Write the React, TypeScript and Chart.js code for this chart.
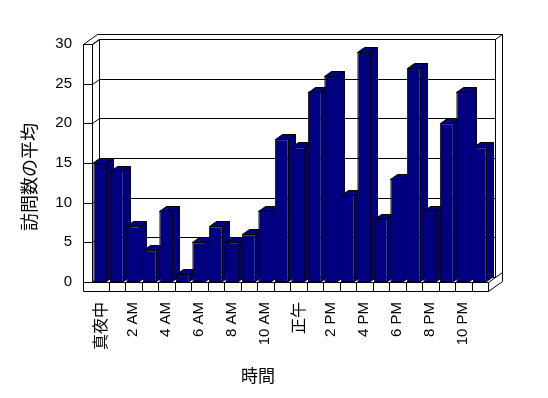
import React, { useEffect, useRef } from 'react';
import { Chart, registerables } from 'chart.js';

Chart.register(...registerables);

// ---- data ----
const hours = [
  '真夜中', '1 AM', '2 AM', '3 AM', '4 AM', '5 AM', '6 AM', '7 AM', '8 AM', '9 AM', '10 AM', '11 AM',
  '正午', '1 PM', '2 PM', '3 PM', '4 PM', '5 PM', '6 PM', '7 PM', '8 PM', '9 PM', '10 PM', '11 PM',
];
const averageVisits = [15, 14, 7, 4, 9, 1, 5, 7, 5, 6, 9, 18, 17, 24, 26, 11, 29, 8, 13, 27, 9, 20, 24, 17];
const shownHourLabels = ['真夜中', '2 AM', '4 AM', '6 AM', '8 AM', '10 AM', '正午', '2 PM', '4 PM', '6 PM', '8 PM', '10 PM'];
const yMin = 0;
const yMax = 30;
const yStep = 5;
const xTitle = '時間';
const yTitle = '訪問数の平均';

// ---- style ----
const NAVY = '#000080';
const DX = 7;
const DY = -5;
const WALL = 9;
const FLOOR = 9;
const LATIN = "'Liberation Sans', 'Noto Sans CJK JP', sans-serif";
const CJK = "'Noto Sans CJK JP', 'Liberation Sans', sans-serif";

const threeD = {
  id: 'threeD',
  beforeDatasetsDraw(chart: any) {
    const { ctx, chartArea, scales } = chart;
    const xs = scales.x;
    const ys = scales.y;
    const L = Math.round(chartArea.left);
    const R = Math.round(chartArea.right);
    const T = Math.round(chartArea.top);
    const B = Math.round(chartArea.bottom);
    const p = (v: number) => v + 0.5;
    const poly = (pts: number[][], fill?: string) => {
      ctx.beginPath();
      pts.forEach(([a, b], i) => (i ? ctx.lineTo(p(a), p(b)) : ctx.moveTo(p(a), p(b))));
      ctx.closePath();
      if (fill) {
        ctx.fillStyle = fill;
        ctx.fill();
      }
      ctx.stroke();
    };
    const seg = (a: number, b: number, c: number, d: number) => {
      ctx.beginPath();
      ctx.moveTo(p(a), p(b));
      ctx.lineTo(p(c), p(d));
      ctx.stroke();
    };
    ctx.save();
    ctx.lineWidth = 1;
    ctx.strokeStyle = '#000';
    // silhouette of walls + floor
    poly(
      [
        [L - WALL, T],
        [L - WALL + 2 * DX, T + 2 * DY],
        [R + 2 * DX, T + 2 * DY],
        [R + 2 * DX, B + FLOOR + 2 * DY],
        [R, B + FLOOR],
        [L - WALL, B + FLOOR],
      ],
      '#fff'
    );
    seg(L - WALL, T, L, T);
    seg(L, T, L, B);
    seg(L, B, R, B);
    seg(R, B, R, B + FLOOR);
    seg(L, T, L + DX, T + DY);
    seg(L, B, L + DX, B + DY);
    poly([
      [L + DX, T + DY],
      [R + DX, T + DY],
      [R + DX, B + DY],
      [L + DX, B + DY],
    ]);
    seg(R + DX, T + DY, R + 2 * DX, T + 2 * DY);
    seg(R, B, R + 2 * DX, B + 2 * DY);
    // value gridlines
    ys.ticks.forEach((t: any) => {
      const yy = Math.round(ys.getPixelForValue(t.value));
      seg(L - WALL, yy, L, yy);
      seg(L, yy, L + DX, yy + DY);
      if (t.value !== yMin && t.value !== yMax) seg(L + DX, yy + DY, R + DX, yy + DY);
    });
    // floor ticks
    for (let i = 1; i < hours.length; i++) {
      const xx = Math.round((xs.getPixelForValue(i - 1) + xs.getPixelForValue(i)) / 2);
      seg(xx, B, xx, B + FLOOR);
    }
    // bar depth faces
    const meta = chart.getDatasetMeta(0);
    meta.data.forEach((el: any) => {
      const { x, y, base, width } = el.getProps(['x', 'y', 'base', 'width'], true);
      const l = Math.round(x - width / 2);
      const r = Math.round(x + width / 2) - 1;
      const t = Math.round(y);
      const b = Math.round(base) - 1;
      poly(
        [
          [r, t],
          [r + DX, t + DY],
          [r + DX, b + DY],
          [r, b],
        ],
        NAVY
      );
      poly(
        [
          [l, t],
          [r, t],
          [r + DX, t + DY],
          [l + DX, t + DY],
        ],
        NAVY
      );
    });
    ctx.restore();
  },
  afterDraw(chart: any) {
    const { ctx } = chart;
    ctx.save();
    ctx.fillStyle = '#000';
    ctx.textAlign = 'center';
    ctx.textBaseline = 'middle';
    ctx.font = `17px ${CJK}`;
    ctx.fillText(xTitle, 258, 376);
    ctx.translate(29, 177);
    ctx.rotate(-Math.PI / 2);
    ctx.font = `18px ${CJK}`;
    ctx.fillText(yTitle, 0, 0);
    ctx.restore();
  },
};

export default function App() {
  const ref = useRef<HTMLCanvasElement>(null);
  useEffect(() => {
    if (!ref.current) return;
    const chart = new Chart(ref.current, {
      type: 'bar',
      data: {
        labels: hours,
        datasets: [
          {
            data: averageVisits,
            backgroundColor: NAVY,
            borderColor: '#000',
            borderWidth: 1,
            borderSkipped: false,
            barPercentage: 0.84,
            categoryPercentage: 1,
          },
        ],
      },
      options: {
        responsive: false,
        animation: false,
        devicePixelRatio: 1,
        layout: { padding: { top: 44, right: 60, bottom: 0, left: 0 } },
        plugins: { legend: { display: false }, tooltip: { enabled: false } },
        scales: {
          x: {
            offset: true,
            grid: { display: false, drawTicks: false },
            border: { display: false },
            afterFit: (s: any) => {
              s.height = 116;
            },
            ticks: {
              autoSkip: false,
              minRotation: 90,
              maxRotation: 90,
              padding: 20,
              color: '#000',
              font: (c: any) => {
                const lab = hours[c.index] ?? '';
                const cjk = /[^\x00-\x7F]/.test(lab);
                return { family: cjk ? CJK : LATIN, size: cjk ? 16 : 15 };
              },
              callback: (_v: any, i: number) => (shownHourLabels.includes(hours[i]) ? hours[i] : ''),
            },
          },
          y: {
            min: yMin,
            max: yMax,
            grid: { display: false, drawTicks: false },
            border: { display: false },
            afterFit: (s: any) => {
              s.width = 92;
            },
            ticks: {
              stepSize: yStep,
              padding: 20,
              color: '#000',
              font: { family: LATIN, size: 15 },
            },
          },
        },
      },
      plugins: [threeD],
    });
    return () => chart.destroy();
  }, []);
  return (
    <div style={{ position: 'absolute', left: 0, top: 0, width: 548, height: 398, background: '#fff' }}>
      <canvas ref={ref} width={548} height={398} style={{ display: 'block' }} />
    </div>
  );
}
